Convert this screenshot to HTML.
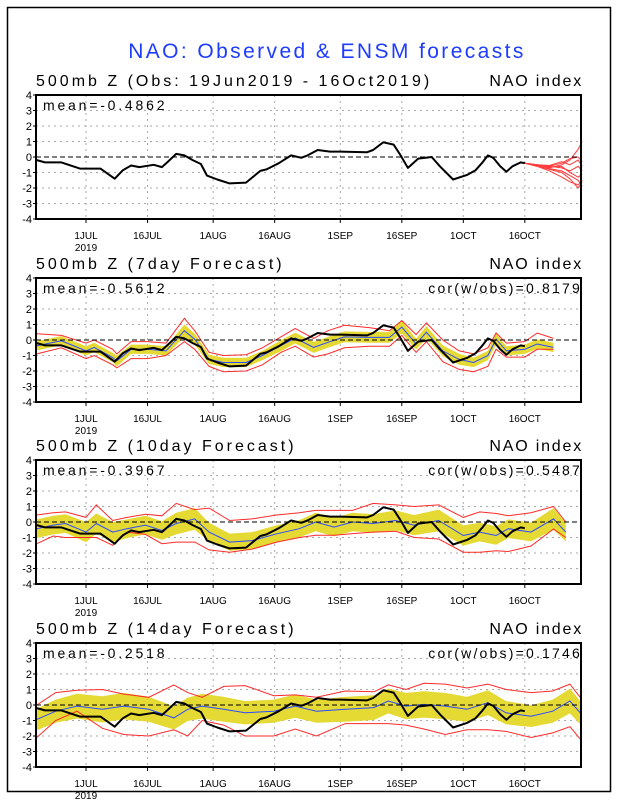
<!DOCTYPE html>
<html><head><meta charset="utf-8"><style>
body{margin:0;background:#fff;}
svg{display:block;font-family:"Liberation Sans",sans-serif;}
</style></head><body>
<svg id="chart" width="618" height="800" viewBox="0 0 618 800">
<rect x="7.5" y="7.5" width="603" height="784" fill="none" stroke="#000" stroke-width="1.5"/>
<text x="327" y="58" text-anchor="middle" font-size="21" letter-spacing="2.4" fill="#1e3cff">NAO: Observed &amp; ENSM forecasts</text>
</svg>
<script>
// ---- data (day offsets from 1 Jul 2019) ----
const xTickDays = [0, 15, 31, 46, 62, 77, 92, 107];
const xTickLabels = ["1JUL", "16JUL", "1AUG", "16AUG", "1SEP", "16SEP", "1OCT", "16OCT"];
const yTicks = [4, 3, 2, 1, 0, -1, -2, -3, -4];
const panelTitles = ["500mb Z (Obs: 19Jun2019 - 16Oct2019)", "500mb Z (7day Forecast)", "500mb Z (10day Forecast)", "500mb Z (14day Forecast)"];
const panelMeans = ["mean=-0.4862", "mean=-0.5612", "mean=-0.3967", "mean=-0.2518"];
const panelCors = ["", "cor(w/obs)=0.8179", "cor(w/obs)=0.5487", "cor(w/obs)=0.1746"];

const obsDays = [-12,-10,-6,-1.5,3.5,7,9,11,13,16.5,18.5,20,22,24,26,28,29.5,32,35,39,42.5,44,47,50,52.5,54,56.5,59.5,62,68.5,70,72.5,75,76.5,78.5,81,84.3,86.3,89.5,93,95,96.5,98,99.3,101,102.5,104,106,107];
const obsVals = [-0.2,-0.35,-0.35,-0.75,-0.75,-1.4,-0.85,-0.55,-0.65,-0.5,-0.65,-0.3,0.2,0.1,-0.2,-0.45,-1.2,-1.45,-1.7,-1.65,-0.9,-0.8,-0.4,0.1,-0.05,0.1,0.45,0.35,0.35,0.3,0.45,0.95,0.8,0.2,-0.7,-0.1,0,-0.6,-1.45,-1.15,-0.85,-0.4,0.1,-0.05,-0.6,-0.95,-0.6,-0.35,-0.4];

const ensDays = [107,110,113,116,118,120,121];
const ens1 = [-0.4,-0.5,-0.7,-0.5,-0.2,0.5,1.0];
const ens2 = [-0.4,-0.6,-0.8,-1.0,-1.4,-2.0,-1.6];
const ens3 = [-0.4,-0.55,-0.6,-0.4,-0.1,0.0,-0.3];
const ens4 = [-0.4,-0.6,-0.75,-0.9,-1.2,-1.5,-1.9];
const ens5 = [-0.4,-0.5,-0.6,-0.7,-0.9,-0.6,-0.9];
const ens6 = [-0.4,-0.55,-0.65,-0.6,-1.0,-1.3,-1.1];
const ens7 = [-0.4,-0.5,-0.55,-0.3,-0.5,-0.2,-0.6];
const ens8 = [-0.4,-0.6,-0.9,-1.3,-1.6,-1.8,-1.5];

const f7Days = [-12,-6,0,2,6.5,7.5,11,15,19.5,24,26.5,30,33.5,39,43,47.5,51,55.5,59,63,69,74,77,80.5,83,87,91,94.5,98,100,102.5,107,110,114];
const f7Mean = [-0.37,-0.05,-0.7,-0.48,-1.13,-1.35,-0.6,-0.6,-0.7,0.6,0.05,-1.25,-1.45,-1.45,-1.0,-0.37,0.13,-0.48,-0.15,0.2,0.17,0.17,0.83,-0.26,0.5,-0.7,-1.25,-1.45,-1.0,0.06,-0.7,-0.6,-0.26,-0.48];
const f7Spread = [0.3,0.3,0.3,0.3,0.3,0.35,0.3,0.3,0.3,0.4,0.35,0.3,0.3,0.3,0.3,0.35,0.35,0.35,0.35,0.35,0.35,0.35,0.4,0.35,0.4,0.35,0.35,0.3,0.3,0.35,0.3,0.3,0.3,0.3];
const f7Hi = [0.4,0.3,-0.2,0.0,-0.6,-0.9,-0.1,-0.1,-0.2,1.4,0.6,-0.8,-1.0,-0.95,-0.5,0.2,0.75,0.1,0.6,0.95,0.8,0.6,1.25,0.35,1.1,0.0,-0.7,-0.9,-0.5,0.45,-0.2,-0.1,0.45,0.1];
const f7Lo = [-0.9,-0.5,-1.2,-1.0,-1.6,-1.8,-1.2,-1.2,-1.0,-0.1,-0.6,-1.7,-2.05,-2.0,-1.6,-0.8,-0.4,-1.1,-0.9,-0.5,-0.4,-0.4,0.3,-0.8,-0.1,-1.4,-1.9,-2.05,-1.7,-0.6,-1.1,-1.1,-0.6,-0.6];

const f10Days = [-12,-8,-5,0,2.5,6.5,10,14.5,18.5,22,26.5,30,35,40.5,46.5,52,56,60.5,65,70,75.5,80,86,92,96,100,103,108.5,114,117];
const f10Mean = [-0.43,-0.2,-0.1,-0.65,-0.1,-0.65,-0.43,-0.2,-0.55,-0.1,0.2,-0.65,-1.3,-1.2,-0.76,-0.43,0,-0.33,0,-0.1,0.1,-0.2,0.1,-0.87,-0.65,-0.87,-0.43,-0.65,0.2,-0.65];
const f10Spread = [0.6,0.6,0.6,0.65,0.65,0.65,0.6,0.6,0.6,0.7,0.7,0.6,0.55,0.55,0.55,0.55,0.6,0.6,0.6,0.6,0.65,0.65,0.7,0.65,0.6,0.6,0.6,0.6,0.7,0.6];
const f10Hi = [0.45,0.6,0.65,0.3,1.1,0.1,0.3,0.5,0.4,1.2,0.8,0.9,0.1,0.2,0.45,0.6,0.75,0.75,0.75,1.2,1.1,1.0,1.1,0.3,0.65,0.55,0.4,0.6,1.0,0.0];
const f10Lo = [-1.4,-0.9,-1.0,-1.0,-1.0,-1.5,-0.65,-0.8,-1.4,-1.3,-1.3,-1.8,-1.95,-1.75,-1.3,-1.0,-0.85,-0.85,-0.75,-0.65,-0.6,-1.0,-1.1,-1.95,-1.95,-1.85,-1.9,-1.55,-0.45,-1.0];

const f14Days = [-12,-7.4,-2.2,4,9.2,15.3,21.4,24.8,28.3,33.6,38.8,45.8,51,56.2,63.2,70.2,73.7,78,82.4,87.6,92.9,98,102.4,108.5,113.8,118,120.5];
const f14Mean = [-0.93,-0.4,-0.07,-0.28,-0.07,-0.28,-0.83,-0.28,-0.07,-0.28,-0.5,-0.4,-0.07,-0.4,-0.28,-0.17,0.26,-0.07,0.04,-0.07,-0.28,0.15,-0.5,-0.72,-0.4,0.26,-0.5];
const f14Spread = [0.7,0.75,0.8,0.85,0.85,0.8,0.75,0.75,0.8,0.8,0.75,0.75,0.75,0.75,0.8,0.8,0.8,0.85,0.85,0.85,0.8,0.8,0.75,0.7,0.75,0.8,0.75];
const f14Hi = [0.0,0.8,0.95,1.0,0.7,0.5,1.3,0.8,0.5,1.2,1.25,0.6,0.65,0.5,0.9,0.85,1.3,1.0,1.4,1.35,1.1,1.35,1.0,0.8,0.9,1.35,0.5];
const f14Lo = [-2.1,-1.0,-0.4,-1.5,-1.9,-2.0,-1.6,-2.0,-1.0,-1.3,-2.0,-2.0,-1.55,-2.0,-1.2,-1.2,-1.2,-1.3,-1.55,-1.9,-1.6,-1.6,-1.7,-2.1,-1.8,-1.4,-2.2];

// ---- layout ----
const NS = "http://www.w3.org/2000/svg";
const svg = document.getElementById("chart");
const L = 36, R = 581, PH = 124;
const tops = [95, 278, 460, 643];
const D0 = -12.2, D1 = 120.7;
function xs(d){ return L + (d - D0) / (D1 - D0) * (R - L); }
function ysFor(top){ return v => top + (4 - v) / 8 * PH; }
function el(tag, attrs, parent){ const e = document.createElementNS(NS, tag); for (const k in attrs) e.setAttribute(k, attrs[k]); (parent || svg).appendChild(e); return e; }
function pathOf(days, vals, ys){ return days.map((d, i) => (i ? "L" : "M") + xs(d).toFixed(1) + "," + ys(vals[i]).toFixed(1)).join(" "); }

const forecasts = [null,
  {days: f7Days, mean: f7Mean, spread: f7Spread, hi: f7Hi, lo: f7Lo},
  {days: f10Days, mean: f10Mean, spread: f10Spread, hi: f10Hi, lo: f10Lo},
  {days: f14Days, mean: f14Mean, spread: f14Spread, hi: f14Hi, lo: f14Lo}];
const ensembles = [ens1, ens2, ens3, ens4, ens5, ens6, ens7, ens8];

tops.forEach((top, p) => {
  const ys = ysFor(top);
  const g = el("g", {});
  
  
  const t = el("text", {x: L, y: top - 9, "font-size": 16, "letter-spacing": 3}, g); t.textContent = panelTitles[p];
  
  
  const ni = el("text", {x: R + 2, y: top - 9, "font-size": 16, "text-anchor": "end", "letter-spacing": 1.8}, g); ni.textContent = "NAO index";
  
  
  yTicks.forEach(v => {
    if (v !== 4 && v !== -4 && v !== 0) {
      const gl = el("line", {x1: L, x2: R, y1: ys(v), y2: ys(v), stroke: "#aaa", "stroke-dasharray": "2,4", "stroke-width": 1}, g);
      
      
    }
    const tl = el("text", {x: L - 4, y: ys(v) + 4, "font-size": 11, "text-anchor": "end"}, g); tl.textContent = v;
    
    
    el("line", {x1: L - 3, x2: L, y1: ys(v), y2: ys(v), stroke: "#000"}, g);
  });
  xTickDays.forEach((d, i) => {
    const gl = el("line", {x1: xs(d), x2: xs(d), y1: top, y2: top + PH, stroke: "#aaa", "stroke-dasharray": "2,4"}, g);
    
    
    el("line", {x1: xs(d), x2: xs(d), y1: top + PH, y2: top + PH + 4, stroke: "#000"}, g);
    const xl = el("text", {x: xs(d), y: top + PH + 20, "font-size": 10, "text-anchor": "middle"}, g); xl.textContent = xTickLabels[i];
    
    
  });
  const yr = el("text", {x: xs(0), y: top + PH + 32, "font-size": 10, "text-anchor": "middle"}, g); yr.textContent = "2019";
  
  

  const f = forecasts[p];
  if (f) {
    const up = f.days.map((d, i) => xs(d).toFixed(1) + "," + ys(f.mean[i] + f.spread[i]).toFixed(1));
    const dn = f.days.map((d, i) => xs(d).toFixed(1) + "," + ys(f.mean[i] - f.spread[i]).toFixed(1)).reverse();
    const band = el("polygon", {points: up.concat(dn).join(" "), fill: "#e5d933"}, g);
    
    
    const hi = el("path", {d: pathOf(f.days, f.hi, ys), fill: "none", stroke: "#ff2a2a", "stroke-width": 1}, g);
    
    
    const lo = el("path", {d: pathOf(f.days, f.lo, ys), fill: "none", stroke: "#ff2a2a", "stroke-width": 1}, g);
    
    
    const mn = el("path", {d: pathOf(f.days, f.mean, ys), fill: "none", stroke: "#2a4bff", "stroke-width": 1}, g);
    
    
  } else {
    ensembles.forEach(m => {
      const e = el("path", {d: pathOf(ensDays, m, ys), fill: "none", stroke: "#ff3a3a", "stroke-width": 1}, g);
      
      
    });
  }
  const z = el("line", {x1: L, x2: R, y1: ys(0), y2: ys(0), stroke: "#000", "stroke-dasharray": "5,3", "stroke-width": 1}, g);
  
  
  const ob = el("path", {d: pathOf(obsDays, obsVals, ys), fill: "none", stroke: "#000", "stroke-width": 2, "stroke-linejoin": "round"}, g);
  
  
  const fr = el("rect", {x: L, y: top, width: R - L, height: PH, fill: "none", stroke: "#000", "stroke-width": 2}, g);
  
  
  const mt = el("text", {x: L + 7, y: top + 15, "font-size": 14, "letter-spacing": 2.8}, g); mt.textContent = panelMeans[p];
  
  
  if (panelCors[p]) {
    const ct = el("text", {x: R + 1, y: top + 15, "font-size": 14, "text-anchor": "end", "letter-spacing": 2.2}, g); ct.textContent = panelCors[p];
    
    
  }
});
</script>
</body></html>
